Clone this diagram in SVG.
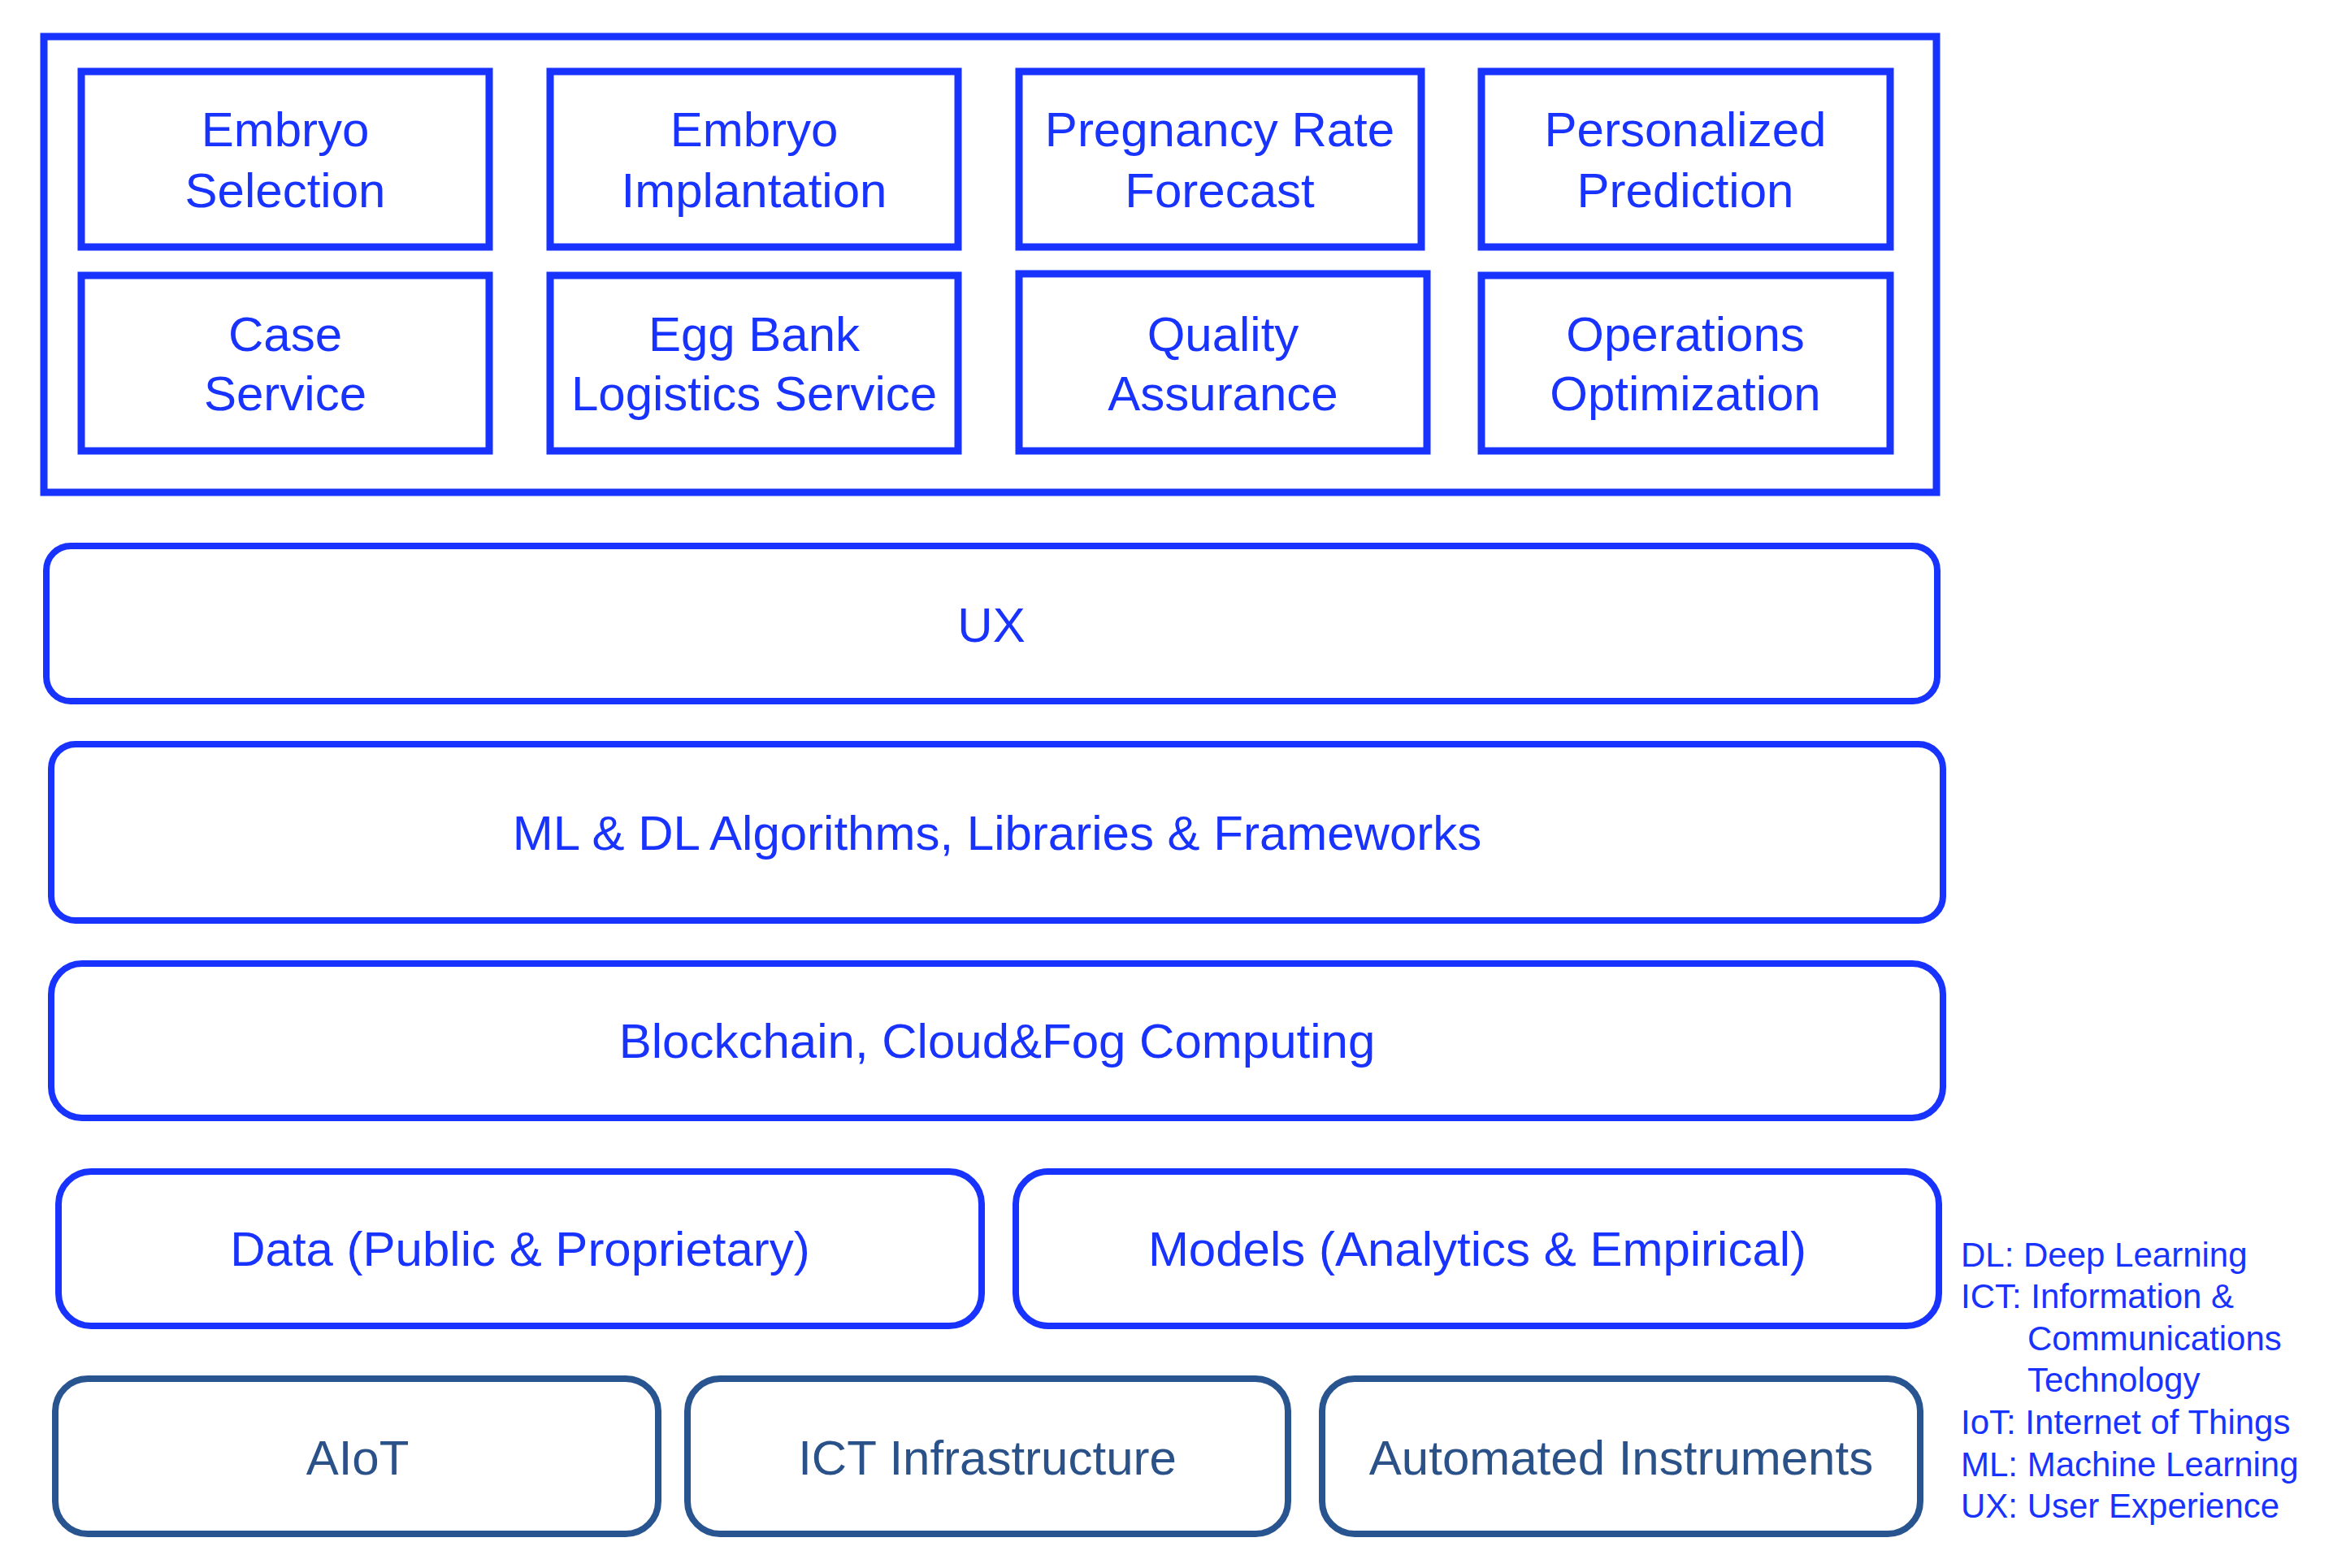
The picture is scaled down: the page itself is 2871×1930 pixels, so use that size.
<svg xmlns="http://www.w3.org/2000/svg" width="2871" height="1930" viewBox="0 0 2871 1930">
<style>
.b{fill:#fff;stroke:#1933ff;stroke-width:9}
.l{fill:#fff;stroke:#1933ff;stroke-width:8}
.d{fill:#fff;stroke:#285490;stroke-width:8}
.t{font-family:"Liberation Sans",Arial,sans-serif;font-size:60px;fill:#1933ff;text-anchor:middle}
.td{font-family:"Liberation Sans",Arial,sans-serif;font-size:60px;fill:#2b5288;text-anchor:middle}
.g{font-family:"Liberation Sans",Arial,sans-serif;font-size:42px;fill:#1933ff}
</style>
<rect width="2871" height="1930" fill="#fff"/>
<g id="applications">
<rect class="b" x="54" y="45" width="2329" height="561"/>
</g>
<g id="embryo-selection"><rect class="b" x="100" y="88" width="502" height="216"/><text class="t" x="351" y="180">Embryo</text><text class="t" x="351" y="255">Selection</text></g>
<g id="embryo-implantation"><rect class="b" x="677" y="88" width="502" height="216"/><text class="t" x="928" y="180">Embryo</text><text class="t" x="928" y="255">Implantation</text></g>
<g id="pregnancy-rate"><rect class="b" x="1254" y="88" width="495" height="216"/><text class="t" x="1501" y="180">Pregnancy Rate</text><text class="t" x="1501" y="255">Forecast</text></g>
<g id="personalized-prediction"><rect class="b" x="1823" y="88" width="503" height="216"/><text class="t" x="2074" y="180">Personalized</text><text class="t" x="2074" y="255">Prediction</text></g>
<g id="case-service"><rect class="b" x="100" y="339" width="502" height="216"/><text class="t" x="351" y="432">Case</text><text class="t" x="351" y="505">Service</text></g>
<g id="egg-bank"><rect class="b" x="677" y="339" width="502" height="216"/><text class="t" x="928" y="432">Egg Bank</text><text class="t" x="928" y="505">Logistics Service</text></g>
<g id="quality-assurance"><rect class="b" x="1254" y="337" width="502" height="218"/><text class="t" x="1505" y="432">Quality</text><text class="t" x="1505" y="505">Assurance</text></g>
<g id="operations-optimization"><rect class="b" x="1823" y="339" width="503" height="216"/><text class="t" x="2074" y="432">Operations</text><text class="t" x="2074" y="505">Optimization</text></g>
<g id="ux"><rect class="l" x="57" y="672" width="2327" height="191" rx="30"/><text class="t" x="1220" y="790">UX</text></g>
<g id="ml-dl"><rect class="l" x="63" y="916" width="2328" height="217" rx="30"/><text class="t" x="1227" y="1046">ML &amp; DL Algorithms, Libraries &amp; Frameworks</text></g>
<g id="blockchain"><rect class="l" x="63" y="1186" width="2328" height="190" rx="38"/><text class="t" x="1227" y="1302">Blockchain, Cloud&amp;Fog Computing</text></g>
<g id="data"><rect class="l" x="72" y="1442" width="1136" height="190" rx="40"/><text class="t" x="640" y="1558">Data (Public &amp; Proprietary)</text></g>
<g id="models"><rect class="l" x="1250" y="1442" width="1136" height="190" rx="40"/><text class="t" x="1818" y="1558">Models (Analytics &amp; Empirical)</text></g>
<g id="aiot"><rect class="d" x="68" y="1697" width="742" height="191" rx="40"/><text class="td" x="440" y="1815">AIoT</text></g>
<g id="ict"><rect class="d" x="846" y="1697" width="739" height="191" rx="40"/><text class="td" x="1215" y="1815">ICT Infrastructure</text></g>
<g id="instruments"><rect class="d" x="1627" y="1697" width="736" height="191" rx="40"/><text class="td" x="1995" y="1815">Automated Instruments</text></g>
<g id="connectors"></g>
<g id="legend">
<text class="g" x="2413" y="1559">DL: Deep Learning</text>
<text class="g" x="2413" y="1610">ICT: Information &amp;</text>
<text class="g" x="2495" y="1662">Communications</text>
<text class="g" x="2495" y="1713">Technology</text>
<text class="g" x="2413" y="1765">IoT: Internet of Things</text>
<text class="g" x="2413" y="1817">ML: Machine Learning</text>
<text class="g" x="2413" y="1868">UX: User Experience</text>
</g>
</svg>
